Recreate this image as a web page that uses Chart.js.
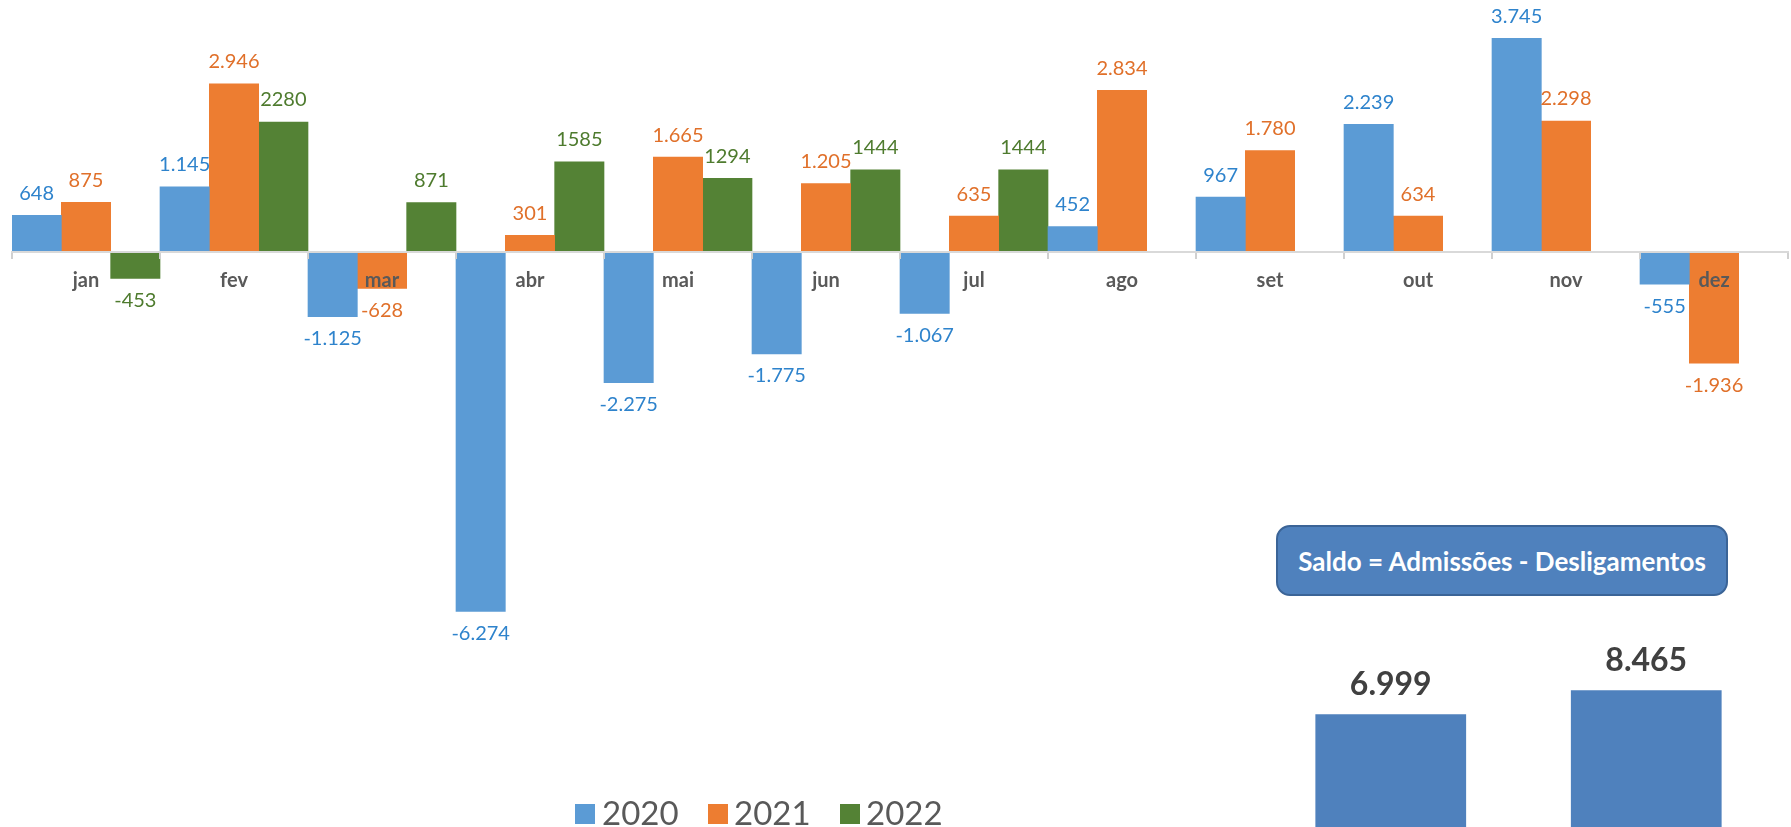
<!DOCTYPE html>
<html>
<head>
<meta charset="utf-8">
<script src="https://cdn.jsdelivr.net/npm/chart.js@4.4.1/dist/chart.umd.min.js"></script>
<style>
  html, body { margin: 0; padding: 0; background: #fff; overflow: hidden; }
  #wrap { position: relative; width: 1791px; height: 827px; overflow: hidden; font-family: Lato, "Open Sans", sans-serif; }
  #main { position: absolute; left: 0; top: 0; }
  #totals { position: absolute; left: 1263px; top: 630px; }
  #saldoBox { position: absolute; left: 1276px; top: 525px; width: 452px; height: 71px; box-sizing: border-box;
    background: #4F81BD; border: 2px solid #3B6497; border-radius: 14px; color: #fff; font-weight: 700;
    font-size: 26px; display: flex; align-items: center; justify-content: center; white-space: nowrap; }
  .lg-box { position: absolute; width: 20px; height: 20px; top: 804px; }
  .lg-txt { position: absolute; top: 792px; font-size: 33px; line-height: 40px; color: #595959; }
</style>
</head>
<body>
<div id="wrap">
  <canvas id="main" width="1791" height="827"></canvas>
  <canvas id="totals" width="511" height="199"></canvas>
  <div id="saldoBox">Saldo = Admissões - Desligamentos</div>
  <div id="legend"></div>
</div>
<script>
// ---- data ----
const months = ['jan','fev','mar','abr','mai','jun','jul','ago','set','out','nov','dez'];
const years = ['2020','2021','2022'];
const saldo2020 = [648, 1145, -1125, -6274, -2275, -1775, -1067, 452, 967, 2239, 3745, -555];
const saldo2021 = [875, 2946, -628, 301, 1665, 1205, 635, 2834, 1780, 634, 2298, -1936];
const saldo2022 = [-453, 2280, 871, 1585, 1294, 1444, 1444, null, null, null, null, null];
const totalLabels = ['2021', '2022'];
const totalValues = [6999, 8465];

const barColors = ['#5B9BD5', '#ED7D31', '#548235'];
const textColors = ['#2E83CC', '#E0702A', '#4E7B2E'];

function fmtBR(v) {
  const s = String(Math.abs(v)).replace(/\B(?=(\d{3})+(?!\d))/g, '.');
  return (v < 0 ? '-' : '') + s;
}
function fmtPlain(v) { return String(v); }

const valueLabels = {
  id: 'valueLabels',
  afterDatasetsDraw(chart, args, opts) {
    const ctx = chart.ctx;
    chart.data.datasets.forEach((ds, i) => {
      const meta = chart.getDatasetMeta(i);
      meta.data.forEach((bar, j) => {
        const v = ds.data[j];
        if (v === null || v === undefined) return;
        ctx.save();
        ctx.font = opts.font;
        ctx.fillStyle = opts.colors[i];
        ctx.textAlign = 'center';
        ctx.textBaseline = 'middle';
        const y = v >= 0 ? bar.y - opts.offset : bar.y + opts.offset;
        ctx.fillText(opts.formats[i](v), bar.x, y);
        ctx.restore();
      });
    });
  }
};

// ---- main chart ----
const series = [saldo2020, saldo2021, saldo2022];
new Chart(document.getElementById('main'), {
  type: 'bar',
  data: {
    labels: months,
    datasets: years.map((y, i) => ({
      label: y,
      data: series[i],
      backgroundColor: barColors[i],
      borderWidth: 0,
      barPercentage: 1,
      categoryPercentage: 1
    }))
  },
  options: {
    responsive: false,
    animation: false,
    layout: { padding: { left: 12, right: 3, top: 0, bottom: 0 } },
    plugins: {
      legend: { display: false },
      tooltip: { enabled: false },
      valueLabels: {
        font: '20px Lato',
        colors: textColors,
        formats: [fmtBR, fmtBR, fmtPlain],
        offset: 22
      }
    },
    scales: {
      x: {
        position: { y: 0 },
        afterFit: (s) => { s.height = 0; },
        grid: { display: true, drawOnChartArea: false, drawTicks: true, tickLength: 6, color: '#D0D0D0', lineWidth: 2, z: 1 },
        border: { display: true, color: '#D9D9D9', width: 2, z: 1 },
        ticks: { z: 2, color: '#595959', font: { family: 'Lato', size: 20, weight: 'bold' }, padding: 10, maxRotation: 0, autoSkip: false }
      },
      y: {
        display: false,
        min: -10045,
        max: 4413
      }
    }
  },
  plugins: [valueLabels]
});

// ---- totals chart ----
new Chart(document.getElementById('totals'), {
  type: 'bar',
  data: {
    labels: totalLabels,
    datasets: [{
      data: totalValues,
      backgroundColor: '#4F81BD',
      borderWidth: 0,
      barPercentage: 0.59,
      categoryPercentage: 1
    }]
  },
  options: {
    responsive: false,
    animation: false,
    layout: { padding: 0 },
    plugins: {
      legend: { display: false },
      tooltip: { enabled: false },
      valueLabels: {
        font: 'bold 32px Lato',
        colors: ['#404040'],
        formats: [fmtBR],
        offset: 30
      }
    },
    scales: {
      x: { display: false },
      y: { display: false, min: 0, max: 12143 }
    }
  },
  plugins: [valueLabels]
});

// ---- legend (HTML) ----
const legendPos = [[575, 602], [708, 734], [840, 866]];
const legend = document.getElementById('legend');
years.forEach((y, i) => {
  const b = document.createElement('div');
  b.className = 'lg-box';
  b.style.left = legendPos[i][0] + 'px';
  b.style.background = barColors[i];
  legend.appendChild(b);
  const t = document.createElement('div');
  t.className = 'lg-txt';
  t.style.left = legendPos[i][1] + 'px';
  t.textContent = y;
  legend.appendChild(t);
});
</script>
</body>
</html>
